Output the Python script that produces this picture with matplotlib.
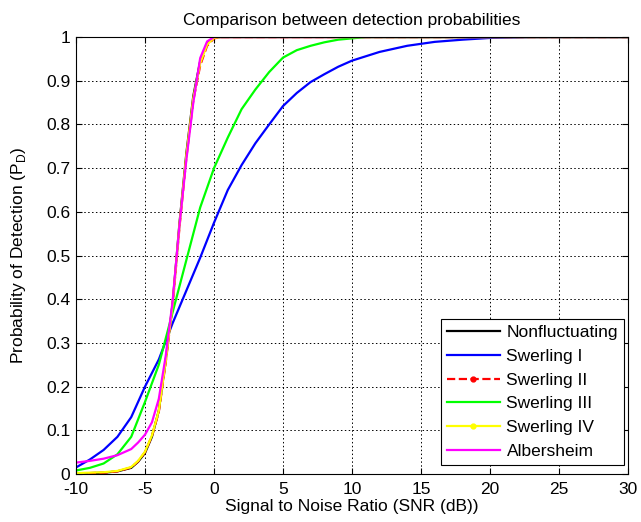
import numpy as np
import matplotlib.pyplot as plt
from matplotlib.lines import Line2D

plt.rcParams['font.family'] = ['Liberation Sans', 'DejaVu Sans']
plt.rcParams['axes.unicode_minus'] = False

# detection curves, P_D versus SNR in dB
snr_nf = [-10, -9, -8, -7, -6, -5.5, -5, -4.5, -4, -3.5, -3, -2.5, -2, -1.5, -1, -0.5, 0, 0.5, 30]
pd_nf = [0.001, 0.002, 0.003, 0.006, 0.014, 0.028, 0.048, 0.085, 0.145, 0.26, 0.39, 0.575, 0.735, 0.865, 0.945, 0.985, 0.999, 1.0, 1.0]

snr_sw1 = [-10, -9, -8, -7, -6, -5, -4, -3, -2, -1, 0, 1, 2, 3, 4, 5, 6, 7, 8, 9, 10, 12, 14, 16, 18, 20, 23, 30]
pd_sw1 = [0.015, 0.033, 0.055, 0.085, 0.13, 0.2, 0.262, 0.345, 0.42, 0.495, 0.575, 0.65, 0.707, 0.757, 0.80, 0.842,
          0.872, 0.897, 0.915, 0.932, 0.946, 0.966, 0.98, 0.989, 0.994, 0.998, 1.0, 1.0]

snr_sw2 = [-10, -9, -8, -7, -6, -5.5, -5, -4.5, -4, -3.5, -3, -2.5, -2, -1.5, -1, -0.5, 0, 0.5, 30]
pd_sw2 = [0.001, 0.002, 0.003, 0.006, 0.015, 0.029, 0.05, 0.087, 0.142, 0.255, 0.385, 0.565, 0.725, 0.855, 0.935, 0.98, 0.997, 1.0, 1.0]

snr_sw3 = [-10, -9, -8, -7, -6, -5, -4, -3, -2, -1, 0, 1, 2, 3, 4, 5, 6, 7, 8, 9, 10, 11, 30]
pd_sw3 = [0.008, 0.014, 0.024, 0.045, 0.085, 0.165, 0.25, 0.37, 0.49, 0.61, 0.70, 0.77, 0.835, 0.88, 0.92, 0.953,
          0.97, 0.98, 0.988, 0.994, 0.997, 1.0, 1.0]

snr_sw4 = [-10, -9, -8, -7, -6, -5.5, -5, -4.5, -4, -3.5, -3, -2.5, -2, -1.5, -1, -0.5, 0, 0.5, 30]
pd_sw4 = [0.002, 0.003, 0.004, 0.007, 0.016, 0.03, 0.051, 0.088, 0.145, 0.258, 0.388, 0.57, 0.73, 0.86, 0.94, 0.983, 0.998, 1.0, 1.0]

snr_alb = [-10, -9, -8, -7, -6, -5.5, -5, -4.5, -4, -3.5, -3, -2.5, -2, -1.5, -1, -0.5, 0, 30]
pd_alb = [0.026, 0.03, 0.035, 0.043, 0.057, 0.072, 0.09, 0.118, 0.172, 0.27, 0.395, 0.57, 0.72, 0.85, 0.952, 0.99, 1.0, 1.0]

names = ['Nonfluctuating', 'Swerling I', 'Swerling II', 'Swerling III', 'Swerling IV', 'Albersheim']

fs = 12.5

fig = plt.figure(figsize=(6.41, 5.22), dpi=100)
ax = fig.add_axes([0.1186, 0.092, 0.861, 0.837])

lw = 1.6
ax.plot(snr_nf, pd_nf, color='k', lw=lw)
ax.plot(snr_sw1, pd_sw1, color='b', lw=lw)
ax.plot(snr_sw2, pd_sw2, color='r', lw=lw, ls='--')
ax.plot(snr_sw3, pd_sw3, color='#00ff00', lw=lw)
ax.plot(snr_sw4, pd_sw4, color='#ffff00', lw=lw)
ax.plot(snr_alb, pd_alb, color='#ff00ff', lw=lw)

ax.set_xlim(-10, 30)
ax.set_ylim(0, 1)
ax.set_xticks(np.arange(-10, 31, 5))
ax.set_yticks(np.arange(0, 1.01, 0.1))
ax.set_yticklabels(['0', '0.1', '0.2', '0.3', '0.4', '0.5', '0.6', '0.7', '0.8', '0.9', '1'])
ax.tick_params(direction='in', top=True, right=True, labelsize=fs, length=4)
ax.tick_params(axis='x', pad=6)
ax.tick_params(axis='y', pad=4)
ax.grid(True, color='k', ls=(0, (1.5, 2.5)), lw=0.7)
for s in ax.spines.values():
    s.set_linewidth(0.8)

ax.set_title('Comparison between detection probabilities', fontsize=fs, pad=9)
ax.set_xlabel('Signal to Noise Ratio (SNR (dB))', fontsize=fs, labelpad=1)
ax.set_ylabel('Probability of Detection (P$_\\mathregular{D}$)', fontsize=fs)
ax.yaxis.set_label_coords(-0.087, 0.5)

handles = [
    Line2D([], [], color='k', lw=lw),
    Line2D([], [], color='b', lw=lw),
    Line2D([], [], color='r', lw=lw, ls='--', marker='.', markersize=7),
    Line2D([], [], color='#00ff00', lw=lw),
    Line2D([], [], color='#ffff00', lw=lw, marker='.', markersize=7),
    Line2D([], [], color='#ff00ff', lw=lw),
]
leg = ax.legend(handles, names, loc='lower right', bbox_to_anchor=(0.993, 0.02),
                fontsize=fs, fancybox=False, edgecolor='k', framealpha=1,
                borderaxespad=0, handlelength=3.1, handletextpad=0.35,
                labelspacing=0.5, borderpad=0.35)
leg.get_frame().set_linewidth(0.8)

fig.savefig('out.png', dpi=100)
